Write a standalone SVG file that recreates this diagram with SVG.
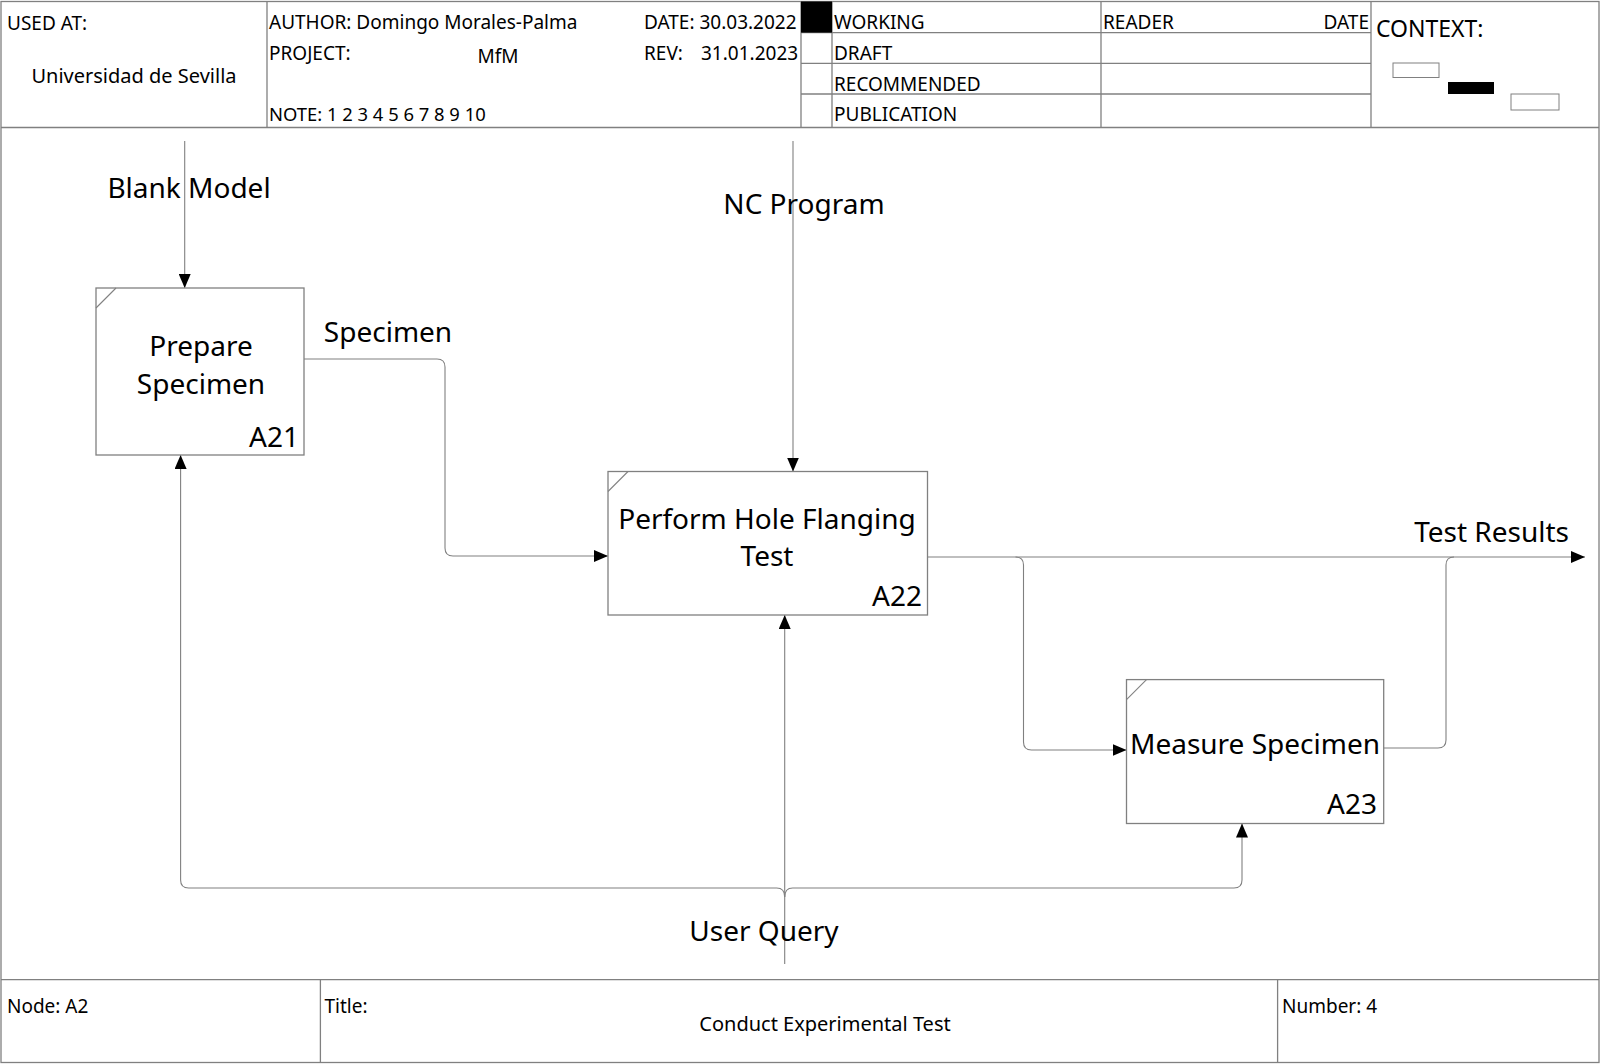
<svg xmlns="http://www.w3.org/2000/svg" width="1600" height="1064" viewBox="0 0 1600 1064">
<style>
.frame{fill:none;stroke:#808080;stroke-width:1.3}
.box{fill:#fff;stroke:#808080;stroke-width:1.3}
.conn{fill:none;stroke:#808080;stroke-width:1.1}
.t{font-family:"Noto Sans","Open Sans",sans-serif;font-size:19px;fill:#000}
.tl{font-family:"Noto Sans","Open Sans",sans-serif;font-size:20px;fill:#000}
.ctx{font-family:"Noto Sans","Open Sans",sans-serif;font-size:23px;fill:#000}
.big{font-family:"Noto Sans","Open Sans",sans-serif;font-size:28px;fill:#000}
</style>
<defs>
<marker id="arr" markerUnits="userSpaceOnUse" markerWidth="14" markerHeight="12" refX="14" refY="6" orient="auto">
<path d="M0,0 L14,6 L0,12 Z" fill="#000"/>
</marker>
</defs>
<rect x="0" y="0" width="1600" height="1064" fill="#fff"/>
<g id="frame">
<rect class="frame" x="1" y="1.5" width="1598" height="1061"/>
<line class="frame" x1="1" y1="127.5" x2="1599" y2="127.5"/>
<line class="frame" x1="267" y1="1.5" x2="267" y2="127.5"/>
<line class="frame" x1="801" y1="1.5" x2="801" y2="127.5"/>
<line class="frame" x1="832" y1="1.5" x2="832" y2="127.5"/>
<line class="frame" x1="1101" y1="1.5" x2="1101" y2="127.5"/>
<line class="frame" x1="1371" y1="1.5" x2="1371" y2="127.5"/>
<line class="frame" x1="801" y1="32.6" x2="1371" y2="32.6"/>
<line class="frame" x1="801" y1="63.3" x2="1371" y2="63.3"/>
<line class="frame" x1="801" y1="94" x2="1371" y2="94"/>
<rect x="801" y="1.5" width="31" height="31.1" fill="#000"/>
<rect x="1393" y="63" width="46" height="14.5" fill="#fff" stroke="#808080" stroke-width="1"/>
<rect x="1448" y="82" width="46" height="12" fill="#000"/>
<rect x="1511" y="94" width="48" height="16" fill="#fff" stroke="#808080" stroke-width="1"/>
<line class="frame" x1="1" y1="979.6" x2="1599" y2="979.6"/>
<line class="frame" x1="320.4" y1="979.6" x2="320.4" y2="1063"/>
<line class="frame" x1="1277.6" y1="979.6" x2="1277.6" y2="1063"/>
</g>
<g id="header-text">
<text class="t" x="7" y="30">USED AT:</text>
<text class="tl" x="134" y="83" text-anchor="middle">Universidad de Sevilla</text>
<text class="t" x="269" y="29">AUTHOR: Domingo Morales-Palma</text>
<text class="t" x="269" y="60">PROJECT:</text>
<text class="t" x="498" y="63" text-anchor="middle">MfM</text>
<text class="t" x="269" y="121" style="font-size:18.4px">NOTE: 1 2 3 4 5 6 7 8 9 10</text>
<text class="t" x="644" y="29">DATE: 30.03.2022</text>
<text class="t" x="644" y="60">REV:</text>
<text class="t" x="701" y="60">31.01.2023</text>
<text class="t" x="834" y="29">WORKING</text>
<text class="t" x="834" y="60">DRAFT</text>
<text class="t" x="834" y="91">RECOMMENDED</text>
<text class="t" x="834" y="121">PUBLICATION</text>
<text class="t" x="1103" y="29">READER</text>
<text class="t" x="1369" y="29" text-anchor="end">DATE</text>
<text class="ctx" x="1376" y="37">CONTEXT:</text>
</g>
<g id="footer-text">
<text class="t" x="7" y="1013">Node: A2</text>
<text class="t" x="324.5" y="1013">Title:</text>
<text class="tl" x="825" y="1031" text-anchor="middle">Conduct Experimental Test</text>
<text class="t" x="1282" y="1013">Number: 4</text>
</g>
<g id="connectors">
<path class="conn" d="M184.7,141 V288" marker-end="url(#arr)"/>
<path class="conn" d="M793,141 V471.5" marker-end="url(#arr)"/>
<path class="conn" d="M304,359 H437 Q445,359 445,367 V548 Q445,556 453,556 H608" marker-end="url(#arr)"/>
<path class="conn" d="M927.5,557 H1585" marker-end="url(#arr)"/>
<path class="conn" d="M1015.5,557 Q1023.5,557 1023.5,565 V742 Q1023.5,750 1031.5,750 H1126.5" marker-end="url(#arr)"/>
<path class="conn" d="M1383.7,748 H1438 Q1446,748 1446,740 V565 Q1446,557 1454,557"/>
<path class="conn" d="M784.7,964 V615" marker-end="url(#arr)"/>
<path class="conn" d="M784.7,897 Q784.7,888 776.7,888 H188.6 Q180.6,888 180.6,880 V455" marker-end="url(#arr)"/>
<path class="conn" d="M784.7,897 Q784.7,888 792.7,888 H1234 Q1242,888 1242,880 V823.5" marker-end="url(#arr)"/>
<text class="big" x="189" y="198" text-anchor="middle">Blank Model</text>
<text class="big" x="804" y="214" text-anchor="middle">NC Program</text>
<text class="big" x="388" y="342" text-anchor="middle">Specimen</text>
<text class="big" x="1569" y="542" text-anchor="end">Test Results</text>
<text class="big" x="764" y="941" text-anchor="middle">User Query</text>
</g>
<g id="A21">
<rect class="box" x="96" y="288" width="208" height="167"/>
<line class="conn" x1="96" y1="308" x2="116" y2="288"/>
<text class="big" x="201" y="356" text-anchor="middle">Prepare</text>
<text class="big" x="201" y="394" text-anchor="middle">Specimen</text>
<text class="big" x="299" y="447" text-anchor="end">A21</text>
</g>
<g id="A22">
<rect class="box" x="608" y="471.5" width="319.5" height="143.5"/>
<line class="conn" x1="608" y1="491.5" x2="628" y2="471.5"/>
<text class="big" x="767" y="528.5" text-anchor="middle">Perform Hole Flanging</text>
<text class="big" x="767" y="566" text-anchor="middle">Test</text>
<text class="big" x="922" y="606" text-anchor="end">A22</text>
</g>
<g id="A23">
<rect class="box" x="1126.5" y="679.6" width="257.2" height="143.9"/>
<line class="conn" x1="1126.5" y1="699.6" x2="1146.5" y2="679.6"/>
<text class="big" x="1255" y="754" text-anchor="middle">Measure Specimen</text>
<text class="big" x="1377" y="814" text-anchor="end">A23</text>
</g>
</svg>
